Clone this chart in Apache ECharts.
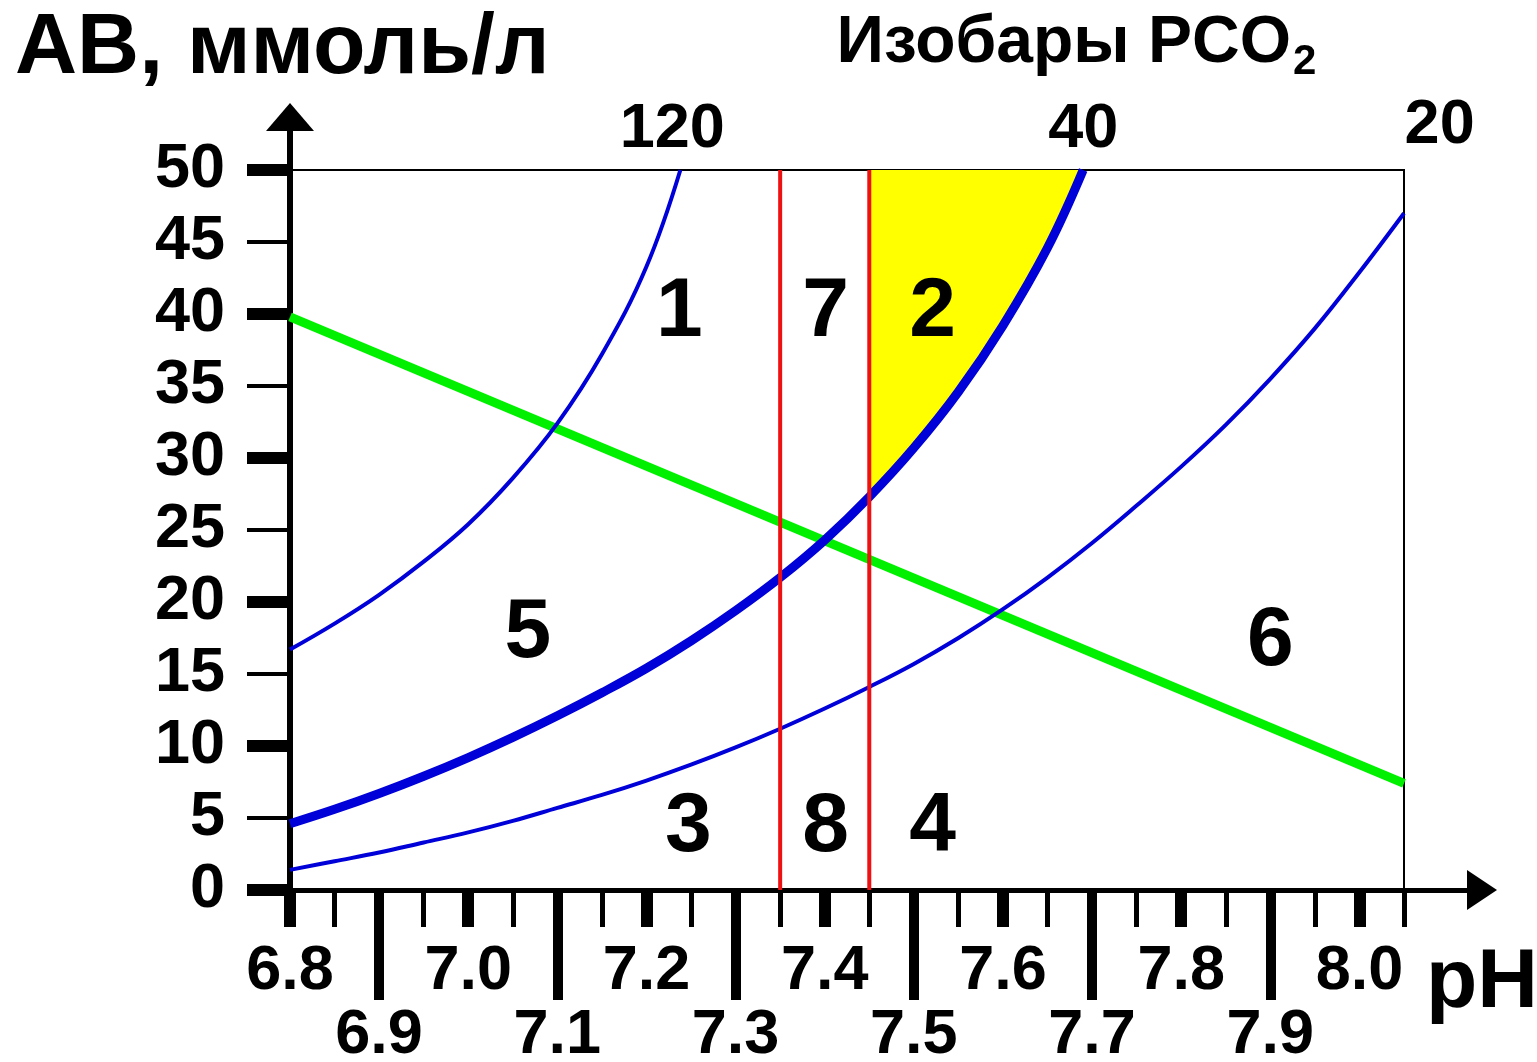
<!DOCTYPE html>
<html><head><meta charset="utf-8">
<script src="https://cdn.jsdelivr.net/npm/echarts@6/dist/echarts.min.js"></script>
<style>html,body{margin:0;padding:0;background:#fff}#c{width:1537px;height:1062px}</style>
</head><body><div id="c"></div>
<script>
// ---- axis tick / label values ----
const phMinorTicks = [6.85,6.95,7.05,7.15,7.25,7.35,7.45,7.55,7.65,7.75,7.85,7.95,8.05];
const phEvenTicks = [6.8,7.0,7.2,7.4,7.6,7.8,8.0];
const phOddTicks = [6.9,7.1,7.3,7.5,7.7,7.9];
const abLabels = [0,5,10,15,20,25,30,35,40,45,50];
const abMinorTicks = [5,15,25,35,45];
const abMajorTicks = [0,10,20,30,40,50];

// ---- isobars PCO2 (pH, AB mmol/l) ----
const iso120 = [[6.80,16.7],[6.85,18.5],[6.90,20.5],[6.95,22.8],[7.00,25.4],[7.05,28.6],[7.10,32.4],[7.15,37.2],[7.20,43.3],[7.238,50]];
const iso40 = [[6.80,4.6],[6.85,5.6],[6.90,6.7],[6.95,7.9],[7.00,9.2],[7.05,10.6],[7.10,12.1],[7.15,13.7],[7.20,15.4],[7.25,17.3],[7.30,19.4],[7.35,21.7],[7.40,24.3],[7.45,27.3],[7.50,30.7],[7.55,34.6],[7.60,39.2],[7.65,44.6],[7.69,50.0]];
const iso20 = [[6.80,1.4],[6.85,2.0],[6.90,2.6],[6.95,3.3],[7.00,4.0],[7.05,4.8],[7.10,5.7],[7.15,6.6],[7.20,7.6],[7.25,8.7],[7.30,9.9],[7.35,11.2],[7.40,12.6],[7.45,14.1],[7.50,15.7],[7.55,17.5],[7.60,19.5],[7.65,21.7],[7.70,24.1],[7.75,26.7],[7.80,29.4],[7.85,32.3],[7.90,35.5],[7.95,39.0],[8.00,42.9],[8.05,47.0]];
// buffer line (green)
const bufferLine = [[6.8,39.8],[8.05,7.4]];
// normal pH limits (red)
const normLimits = [7.35, 7.45];
// zone numbers
const zoneLabels = [['1',7.237,40.1],['7',7.401,40.1],['2',7.521,40.1],['5',7.067,17.8],['6',7.90,17.2],['3',7.247,4.3],['8',7.401,4.3],['4',7.521,4.3]];
// isobar labels above plot
const isobarLabels = [['120',7.229,52.8],['40',7.690,52.8],['20',8.090,53.1]];

const FONT = '"Liberation Sans", Arial, sans-serif';
const BLUE = '#0000d8';

// yellow zone: right of 7.45, left of isobar 40, up to 50
const yellowPoly = [[normLimits[1],50]].concat(iso40.filter(p => p[0] >= normLimits[1]));

const chart = echarts.init(document.getElementById('c'), null, {renderer:'canvas'});

const tickLabelStyle = {fontSize:63, fontWeight:'bold', color:'#000', fontFamily:FONT};
function phAxis(ticks, len, w, labels, margin){
  return {
    gridIndex:0, type:'value', min:6.8, max:8.05, position:'bottom',
    axisLine:{show:false}, splitLine:{show:false},
    axisTick:{show:true, customValues:ticks, length:len, lineStyle:{color:'#000', width:w}},
    axisLabel: labels ? Object.assign({show:true, customValues:labels, margin:margin, formatter:v=>Number(v).toFixed(1)}, tickLabelStyle) : {show:false}
  };
}

const series = [];
series.push({
  type:'custom', xAxisIndex:0, yAxisIndex:0, z:1, silent:true,
  data:[[normLimits[1],50]],
  renderItem:function(params, api){
    if (params.dataIndex > 0) return null;
    return {type:'polygon', shape:{points:yellowPoly.map(p=>api.coord(p))}, style:{fill:'#ffff00'}};
  }
});
series.push({type:'line', data:bufferLine, showSymbol:false, z:2, lineStyle:{color:'#00f000', width:9}, silent:true});
[[iso120,4],[iso40,9],[iso20,4]].forEach(([d,w])=>{
  series.push({type:'line', data:d, smooth:0.4, showSymbol:false, z:3, lineStyle:{color:BLUE, width:w}, silent:true});
});
normLimits.forEach(v=>{
  series.push({type:'line', data:[[v,0],[v,50]], showSymbol:false, z:4, lineStyle:{color:'#ee1111', width:4}, silent:true});
});
const labelItem = {color:'rgba(0,0,0,0)', opacity:1};
series.push({
  type:'scatter', z:5, symbolSize:1, itemStyle:labelItem, silent:true,
  data:zoneLabels.map(z=>({name:z[0], value:[z[1],z[2]]})),
  label:{show:true, position:'inside', formatter:'{b}', fontSize:84, fontWeight:'bold', color:'#000', opacity:1, fontFamily:FONT}
});
series.push({
  type:'scatter', z:5, clip:false, symbolSize:1, itemStyle:labelItem, silent:true,
  data:isobarLabels.map(z=>({name:z[0], value:[z[1],z[2]]})),
  label:{show:true, position:'inside', formatter:'{b}', fontSize:63, fontWeight:'bold', color:'#000', opacity:1, fontFamily:FONT}
});

chart.setOption({
  animation:false,
  backgroundColor:'#fff',
  grid:[
    {left:290, right:133, top:170, bottom:172, show:true, borderColor:'#000', borderWidth:2, backgroundColor:'transparent', outerBoundsMode:'none'},
    {left:290, right:55, top:117, bottom:172, show:false, outerBoundsMode:'none'}
  ],
  xAxis:[
    phAxis(phMinorTicks, 37, 5, null),
    phAxis(phEvenTicks, 37, 12, phEvenTicks, 50),
    phAxis(phOddTicks, 110, 10, phOddTicks, 114),
    {gridIndex:1, type:'value', min:0, max:1, position:'bottom',
     axisLine:{show:true, onZero:false, symbol:['none','triangle'], symbolSize:[40,30], lineStyle:{color:'#000', width:5}},
     axisTick:{show:false}, axisLabel:{show:false}, splitLine:{show:false}}
  ],
  yAxis:[
    {gridIndex:0, type:'value', min:0, max:50, position:'left',
     axisLine:{show:false}, splitLine:{show:false},
     axisTick:{show:true, customValues:abMinorTicks, length:43, lineStyle:{color:'#000', width:4}},
     axisLabel:Object.assign({show:true, customValues:abLabels, margin:65}, tickLabelStyle)},
    {gridIndex:0, type:'value', min:0, max:50, position:'left',
     axisLine:{show:false}, splitLine:{show:false},
     axisTick:{show:true, customValues:abMajorTicks, length:43, lineStyle:{color:'#000', width:12}},
     axisLabel:{show:false}},
    {gridIndex:1, type:'value', min:0, max:1, position:'left',
     axisLine:{show:true, onZero:false, symbol:['none','triangle'], symbolSize:[48,28], lineStyle:{color:'#000', width:6}},
     axisTick:{show:false}, axisLabel:{show:false}, splitLine:{show:false}}
  ],
  graphic:[
    {type:'text', x:15, y:49, style:{text:'АВ, ммоль/л', font:'bold 86px '+FONT, fill:'#000', align:'left', verticalAlign:'middle'}},
    {type:'text', x:1291, y:44, style:{text:'Изобары PCO', font:'bold 66px '+FONT, fill:'#000', align:'right', verticalAlign:'middle'}},
    {type:'text', x:1293, y:62, style:{text:'2', font:'bold 42px '+FONT, fill:'#000', align:'left', verticalAlign:'middle'}},
    {type:'text', x:1482, y:984, style:{text:'pH', font:'bold 84px '+FONT, fill:'#000', align:'center', verticalAlign:'middle'}}
  ],
  series:series
});
</script>
</body></html>
